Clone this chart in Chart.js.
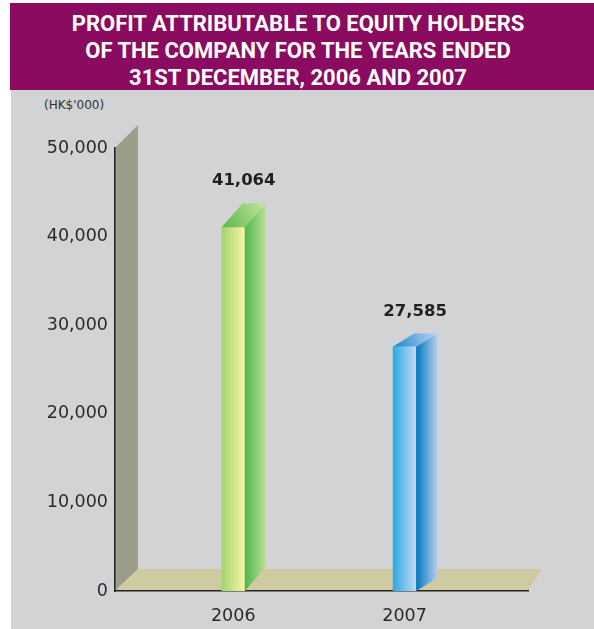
<!DOCTYPE html>
<html lang="en">
<head>
<meta charset="UTF-8">
<title>Profit attributable to equity holders</title>
<script src="https://cdn.jsdelivr.net/npm/chart.js"></script>
<style>
  body {
    margin: 0;
    width: 594px;
    height: 629px;
    position: relative;
    overflow: hidden;
    background: #fff;
  }
  .band {
    position: absolute;
    left: 10px;
    top: 3px;
    width: 576px;
    height: 80px;
    padding: 7px 8px 0 0;
    background: #8a0b60;
    color: #fff;
    font: 700 22px Roboto, sans-serif;
    line-height: 27px;
    text-align: center;
  }
  .panel {
    position: absolute;
    left: 11px;
    top: 90px;
    width: 583px;
    height: 539px;
    background: #d1d3d4;
  }
  .unit {
    position: absolute;
    left: 44px;
    top: 98px;
    font: 12px "DejaVu Sans", sans-serif;
    color: #333;
  }
  canvas {
    position: absolute;
    left: 0;
    top: 0;
  }
</style>
</head>
<body>
  <div class="band">PROFIT ATTRIBUTABLE TO EQUITY HOLDERS<br>OF THE COMPANY FOR THE YEARS ENDED<br>31ST DECEMBER, 2006 AND 2007</div>
  <div class="panel"></div>
  <div class="unit">(HK$'000)</div>
  <canvas id="chart" width="594" height="629"></canvas>

<script>
// dati
const years = [2006, 2007];
const profit = [41064, 27585];
const yMin = 0;
const yMax = 50000;
const yStep = 10000;

// colori delle facce (sinistra -> destra)
const frontColours = [['#a3d46f', '#f6f5a3'], ['#29a9e1', '#c4dbf3']];
const sideColours = [['#4bb648', '#bde096'], ['#0077c0', '#b3cdee']];
const topColours = [['#58b94a', '#c8e49e'], ['#1985cc', '#bed5f1']];
const barDepthX = 21;
const barDepthY = [24, 13];

function gradient(ctx, x0, y0, x1, y1, stops) {
  const g = ctx.createLinearGradient(x0, y0, x1, y1);
  g.addColorStop(0, stops[0]);
  g.addColorStop(1, stops[1]);
  return g;
}

function poly(ctx, pts, fill) {
  ctx.beginPath();
  ctx.moveTo(pts[0][0], pts[0][1]);
  for (let i = 1; i < pts.length; i++) ctx.lineTo(pts[i][0], pts[i][1]);
  ctx.closePath();
  ctx.fillStyle = fill;
  ctx.fill();
}

// parete e pavimento dietro al grafico
const stage = {
  id: 'stage',
  beforeDraw(chart) {
    const { ctx, chartArea: a } = chart;
    ctx.save();
    poly(ctx, [[a.left, a.top], [a.left + 23, a.top - 23], [a.left + 23, a.bottom - 22], [a.left, a.bottom]], '#9c9c88');
    poly(ctx, [[a.left, a.bottom], [a.right, a.bottom], [a.right + 14, a.bottom - 22], [a.left + 23, a.bottom - 22]], '#cfcba1');
    ctx.restore();
  }
};

// facce laterali, superiori ed etichette dei valori
const bars3d = {
  id: 'bars3d',
  afterDatasetsDraw(chart) {
    const ctx = chart.ctx;
    const meta = chart.getDatasetMeta(0);
    ctx.save();
    meta.data.forEach((bar, i) => {
      const w = bar.width;
      const r = bar.x + w / 2;
      const l = bar.x - w / 2;
      const dx = barDepthX;
      const dy = barDepthY[i];
      poly(ctx, [[r, bar.y], [r + dx, bar.y - dy], [r + dx, bar.base - dy], [r, bar.base]],
        gradient(ctx, r, 0, r + dx, 0, sideColours[i]));
      poly(ctx, [[l, bar.y], [r, bar.y], [r + dx, bar.y - dy], [l + dx, bar.y - dy]],
        gradient(ctx, l, bar.y, r + dx, bar.y - dy, topColours[i]));

      ctx.fillStyle = '#231f20';
      ctx.font = 'bold 16.5px "DejaVu Sans", sans-serif';
      ctx.textAlign = 'center';
      ctx.textBaseline = 'middle';
      ctx.fillText(profit[i].toLocaleString('en-US'), bar.x + dx / 2, bar.y - dy - 22);
    });
    ctx.restore();
  }
};

const ctx = document.getElementById('chart').getContext('2d');
const chart = new Chart(ctx, {
  type: 'bar',
  data: {
    datasets: [{
      data: years.map((y, i) => ({ x: y, y: profit[i] })),
      barThickness: 23,
      backgroundColor: c => {
        const xs = c.chart.scales.x;
        if (!xs || c.type !== 'data') return frontColours[0][0];
        const cx = xs.getPixelForValue(years[c.dataIndex]);
        if (!isFinite(cx)) return frontColours[c.dataIndex][0];
        return gradient(c.chart.ctx, cx - 11.5, 0, cx + 11.5, 0, frontColours[c.dataIndex]);
      },
      borderWidth: 0
    }]
  },
  options: {
    responsive: false,
    animation: false,
    layout: { padding: { left: 0, top: 148, right: 66, bottom: 0 } },
    plugins: {
      legend: { display: false },
      tooltip: { enabled: false }
    },
    scales: {
      x: {
        type: 'linear',
        offset: false,
        min: 2005.31,
        max: 2007.72,
        grid: { display: false, drawTicks: false, offset: false },
        border: { display: true, color: '#222', width: 1.5 },
        afterFit: s => { s.height = 38; },
        ticks: {
          stepSize: 1,
          autoSkip: false,
          padding: 15,
          color: '#2a2a2a',
          font: { family: 'DejaVu Sans', size: 17.5 },
          callback: v => Number.isInteger(v) ? String(v) : null
        }
      },
      y: {
        min: yMin,
        max: yMax,
        grid: { display: false, drawTicks: false },
        border: { display: true, color: '#222', width: 1.5 },
        afterFit: s => { s.width = 115; },
        ticks: {
          stepSize: yStep,
          padding: 7,
          color: '#2a2a2a',
          font: { family: 'DejaVu Sans', size: 17.5 },
          callback: v => v.toLocaleString('en-US')
        }
      }
    }
  },
  plugins: [stage, bars3d]
});
</script>
</body>
</html>
